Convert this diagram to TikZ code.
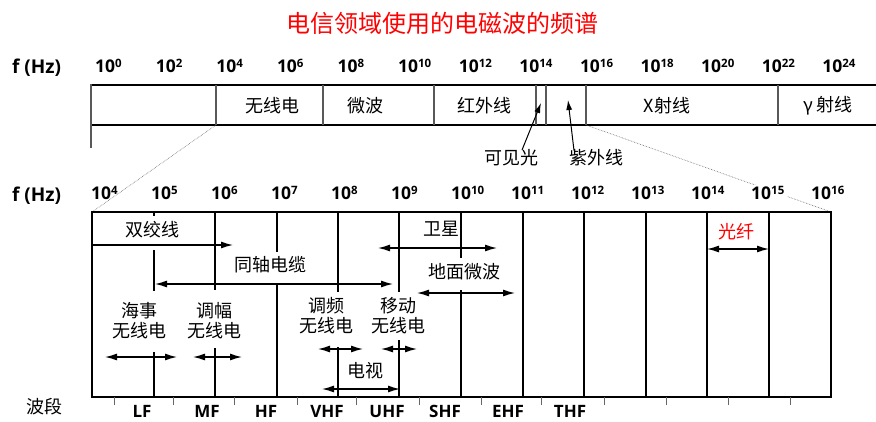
\documentclass[tikz,border=0pt]{standalone}
\usepackage{fontspec}
\setmainfont{Open Sans}
\newfontfamily\cjk{Noto Sans CJK SC}
\usetikzlibrary{arrows.meta}
\newcommand{\pw}[1]{10\raisebox{5pt}{\fontsize{11.5}{11.5}\selectfont #1}}
\begin{document}
\begin{tikzpicture}[x=1pt,y=-1pt,
  num/.style={font=\fontsize{17.5}{17.5}\selectfont\bfseries, anchor=base west, inner sep=0pt},
  bnum/.style={font=\fontsize{17.5}{17.5}\selectfont\bfseries, anchor=base west, inner ysep=1pt, inner xsep=3pt, fill=white},
  cn/.style={font=\cjk\fontsize{18}{20}\selectfont, inner sep=0pt, align=center},
  band/.style={font=\fontsize{17}{17}\selectfont\bfseries, anchor=base, inner sep=0pt},
  hline/.style={line width=1.9pt},
  divl/.style={line width=1.1pt, draw=black!65},
  vl/.style={line width=1.9pt},
  tick/.style={line width=0.8pt, draw=black!60},
  dbl/.style={line width=1.3pt, {Latex[length=12pt,width=7pt]}-{Latex[length=12pt,width=7pt]}},
  sgl/.style={line width=1.3pt, -{Latex[length=12pt,width=7pt]}},
  pointer/.style={line width=1pt, -{Latex[length=10pt,width=6pt]}},
  dots/.style={densely dotted, line width=0.6pt, draw=black!60},
]
\useasboundingbox (0,0) rectangle (876,421);

% title
\node[font=\cjk\fontsize{24}{24}\selectfont, text=red, inner sep=0pt] (title) at (442,23) {电信领域使用的电磁波的频谱};

% ---------- top scale ----------
\node[num, font=\fontsize{19}{19}\selectfont\bfseries] (fhz1) at (12,73) {f (Hz)};
\foreach \k in {0,...,12}{
  \pgfmathtruncatemacro\e{2*\k}
  \node[num] (t\k) at ({95+60.6*\k},72) {\pw{\e}};
}

\draw[hline] (91,85) -- (876,85);
\draw[hline] (91,125) -- (876,125);
\draw[divl] (91,84) -- (91,148);
\foreach \x in {216,323,434,536,546,586,778}{
  \draw[divl] (\x,85) -- (\x,125);
}
\node[cn] (radio) at (272,105.5) {无线电};
\node[cn] (micro) at (365,105.5) {微波};
\node[cn] (ir) at (484,105.5) {红外线};
\node[cn] (xray) at (667,105.5) {X射线};
\node[cn] (gamma) at (828,105.5) {γ 射线};

\node[cn] (kjg) at (511,157.5) {可见光};
\node[cn] (zwx) at (596,158) {紫外线};
\coordinate (kjgTip) at (541,103);
\coordinate (zwxTip) at (568,100);
\draw[pointer] ([xshift=11pt,yshift=-1pt]kjg.north) -- (kjgTip);
\draw[pointer] ([xshift=-22pt,yshift=-1pt]zwx.north) -- (zwxTip);

% ---------- bottom scale ----------
\coordinate (zA) at (216,125);
\coordinate (zB) at (586,125);
\coordinate (bl) at (92,212);
\coordinate (br) at (831,212);
\draw[dots] (zB) -- (br);

\node[num, font=\fontsize{19}{19}\selectfont\bfseries] (fhz2) at (12,201) {f (Hz)};
\foreach \k in {0,...,12}{
  \pgfmathtruncatemacro\e{4+\k}
  \node[bnum] (b\k) at ({88+60*\k},199) {\pw{\e}};
}
\draw[dots] (zA) -- (bl);

\draw[vl] (92,212) rectangle (831,397);
% vertical decade lines (interrupted behind labels)
\draw[vl] (154,212) -- (154,216) (154,250) -- (154,291) (154,352) -- (154,397);
\draw[vl] (215,212) -- (215,290) (215,348) -- (215,397);
\draw[vl] (277,212) -- (277,252) (277,283) -- (277,397);
\draw[vl] (338,212) -- (338,292) (338,347) -- (338,397);
\draw[vl] (399,212) -- (399,292) (399,340) -- (399,397);
\draw[vl] (461,212) -- (461,258) (461,290) -- (461,397);
\foreach \x in {523,584,646,707,769}{
  \draw[vl] (\x,212) -- (\x,397);
}

% labels and ranges
\node[cn] (sjx) at (152,229.5) {双绞线};
\coordinate (sjxA) at (92,245);
\coordinate (sjxB) at (233,245);
\draw[sgl] (sjxA) -- (sjxB);

\node[cn] (tzdl) at (270,264.5) {同轴电缆};
\coordinate (tzdlA) at (155,284);
\coordinate (tzdlB) at (393,284);
\draw[dbl] (tzdlA) -- (tzdlB);

\node[cn] (wx) at (441,229) {卫星};
\coordinate (wxA) at (378,248);
\coordinate (wxB) at (497,248);
\draw[dbl] (wxA) -- (wxB);

\node[cn] (dmwb) at (464,272) {地面微波};
\coordinate (dmA) at (417,293);
\coordinate (dmB) at (515,293);
\draw[dbl] (dmA) -- (dmB);

\node[cn] (hs) at (139,321) {海事\\无线电};
\coordinate (hsA) at (105,357);
\coordinate (hsB) at (177,357);
\draw[dbl] (hsA) -- (hsB);

\node[cn] (tf) at (214,321) {调幅\\无线电};
\coordinate (tfA) at (193,357);
\coordinate (tfB) at (242,357);
\draw[dbl] (tfA) -- (tfB);

\node[cn] (tp) at (326,316) {调频\\无线电};
\coordinate (tpA) at (318,349);
\coordinate (tpB) at (363,349);
\draw[dbl] (tpA) -- (tpB);

\node[cn] (yd) at (398,316) {移动\\无线电};
\coordinate (ydA) at (381,349);
\coordinate (ydB) at (417,349);
\draw[dbl] (ydA) -- (ydB);

\node[cn] (ds) at (365.5,370.5) {电视};
\coordinate (dsA) at (322,389);
\coordinate (dsB) at (400,389);
\draw[dbl] (dsA) -- (dsB);

\node[cn, text=red] (gx) at (736,231.5) {光纤};
\coordinate (gxA) at (707,249);
\coordinate (gxB) at (769,249);
\draw[dbl] (gxA) -- (gxB);

% band ticks and names
\foreach \x in {114,173,234,297,356,419,481,541,604,666,728,790}{
  \draw[tick] (\x,397) -- (\x,405);
}
\node[cn] (bd) at (45,407) {波段};
\node[band] (lf) at (142,417) {LF};
\node[band] (mf) at (207,417) {MF};
\node[band] (hf) at (266,417) {HF};
\node[band] (vhf) at (327,417) {VHF};
\node[band] (uhf) at (387,417) {UHF};
\node[band] (shf) at (445,417) {SHF};
\node[band] (ehf) at (508,417) {EHF};
\node[band] (thf) at (570,417) {THF};
\end{tikzpicture}
\end{document}
